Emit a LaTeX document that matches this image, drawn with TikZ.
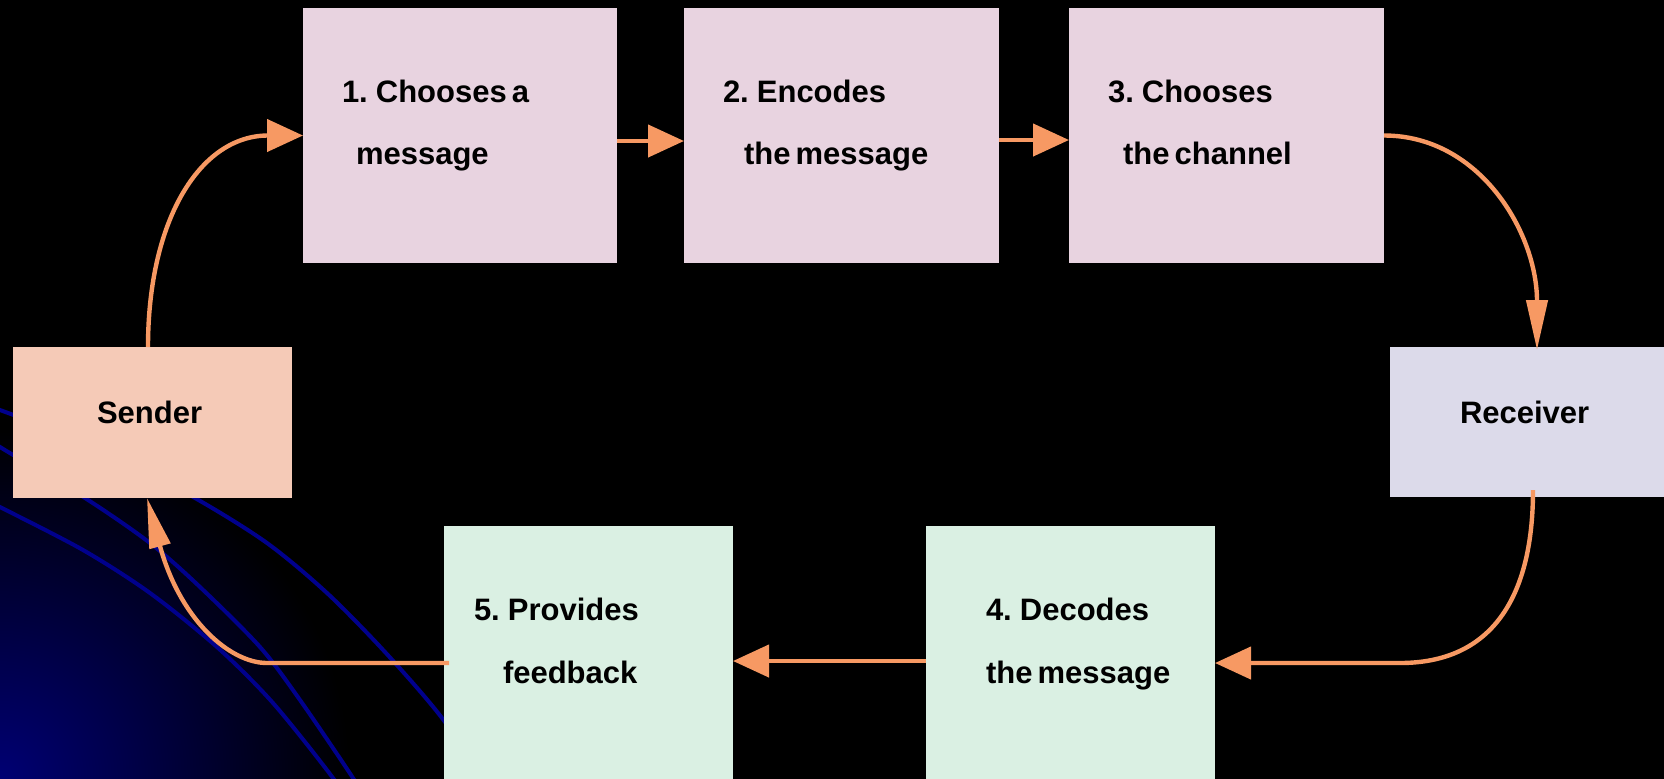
\documentclass[tikz,border=0pt]{standalone}
\usepackage{fontspec}
\setmainfont{Liberation Sans}[WordSpace=0.6]
\usetikzlibrary{arrows.meta}
\definecolor{pinkbox}{RGB}{232,211,224}
\definecolor{senderc}{RGB}{245,202,183}
\definecolor{receiverc}{RGB}{220,218,234}
\definecolor{greenbox}{RGB}{218,240,227}
\definecolor{arrowc}{RGB}{247,153,99}
\definecolor{bgline}{RGB}{0,0,140}
\definecolor{cornerblue}{RGB}{0,0,115}
\pgfdeclareradialshading{cornerglow}{\pgfpoint{0bp}{0bp}}{color(0bp)=(cornerblue); color(25bp)=(black); color(50bp)=(black)}
\begin{document}
\begin{tikzpicture}[x=0.5pt,y=-0.5pt,
  box/.style={draw=none, inner sep=0pt, outer sep=0pt},
  lbl/.style={anchor=base west, inner sep=0pt, outer sep=0pt, font=\fontsize{15.5pt}{18pt}\selectfont\bfseries, text=black},
  conn/.style={draw=arrowc, line width=2.2pt, -{Triangle[length=18pt,width=16pt]}},
  connv/.style={draw=arrowc, line width=2.2pt, -{Triangle[length=25pt,width=10.5pt]}},
  blueline/.style={draw=bgline, line width=2pt}]
\useasboundingbox (0,0) rectangle (1664,778);
\fill[black] (-6,-6) rectangle (1670,784);
\begin{scope}
  \clip (-6,-6) rectangle (1670,784);
  \shade[shading=cornerglow] (0,778) circle[radius=175pt];
  \draw[blueline] plot[smooth] coordinates {(-30,399) (0,410) (100,448) (195,498) (267,543) (327,593) (385,652) (442,718) (490,790)};
  \draw[blueline] plot[smooth] coordinates {(-30,426) (0,447) (85,498) (150,543) (200,587) (260,647) (300,700) (353,778) (365,800)};
  \draw[blueline] plot[smooth] coordinates {(-30,492) (0,507) (83,550) (150,593) (217,647) (273,703) (333,778) (345,800)};
\end{scope}
% boxes
\node[box, fill=pinkbox, minimum width=157pt, minimum height=127.5pt] (b1) at (460,135.5) {};
\node[box, fill=pinkbox, minimum width=157.5pt, minimum height=127.5pt] (b2) at (841.5,135.5) {};
\node[box, fill=pinkbox, minimum width=157.5pt, minimum height=127.5pt] (b3) at (1226.5,135.5) {};
\node[box, fill=senderc, minimum width=139.5pt, minimum height=75.5pt] (sender) at (152.5,422.5) {};
\node[box, fill=receiverc, minimum width=140pt, minimum height=75pt] (receiver) at (1530,422) {};
\node[box, fill=greenbox, minimum width=144.5pt, minimum height=129pt] (b4) at (1070.5,655) {};
\node[box, fill=greenbox, minimum width=144.5pt, minimum height=129pt] (b5) at (588.5,655) {};
% texts
\node[lbl] (t1a) at (342,102) {1. Chooses a};
\node[lbl] (t1b) at (356,164) {message};
\node[lbl] (t2a) at (723,102) {2. Encodes};
\node[lbl] (t2b) at (744,164) {the message};
\node[lbl] (t3a) at (1108,102) {3. Chooses};
\node[lbl] (t3b) at (1123,164) {the channel};
\node[lbl] (ts) at (97,423) {Sender};
\node[lbl] (tr) at (1460,423) {Receiver};
\node[lbl] (t4a) at (986,620) {4. Decodes};
\node[lbl] (t4b) at (986,683) {the message};
\node[lbl] (t5a) at (474,620) {5. Provides};
\node[lbl] (t5b) at (503,683) {feedback};
% connectors
\coordinate (k5) at (1400,663);
\coordinate (k7) at (267,663);
\draw[conn] ([xshift=-2.25pt]sender.north) .. controls +(0,-127) and +(-103,0) .. (b1.west);
\draw[conn] ([yshift=-2.75pt]b1.east) -- ([yshift=-2.75pt]b2.west);
\draw[conn] ([yshift=-2.25pt]b2.east) -- ([yshift=-2.25pt]b3.west);
\draw[connv] (b3.east) .. controls +(96,0) and +(0,-117) .. ([xshift=3.5pt,yshift=-1.5pt]receiver.north);
\draw[conn] ([xshift=1.5pt,yshift=3.5pt]receiver.south) .. controls +(0,110) and +(90,0) .. (k5) -- ([yshift=-4pt]b4.east);
\draw[conn] ([yshift=-3pt]b4.west) -- ([yshift=-3pt]b5.east);
\draw[connv] ([xshift=2.5pt,yshift=-4pt]b5.west) -- (k7) .. controls (230,663) and (180,620) .. ([xshift=-2.75pt]sender.south);
\end{tikzpicture}
\end{document}
